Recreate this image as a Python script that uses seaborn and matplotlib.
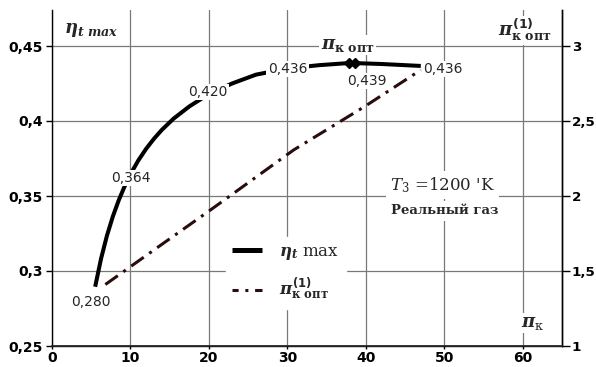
import matplotlib
matplotlib.use('Agg')
import matplotlib.pyplot as plt
import seaborn as sns
from matplotlib.lines import Line2D
from matplotlib.font_manager import FontProperties

# ---------------- data ----------------
pi_k = [5.5, 6.25, 7.0, 7.75, 8.5, 9.25, 10.0, 11.0, 12.0, 13.0, 14.0, 15.5, 17.5,
        20.0, 23.0, 26.0, 30.0, 34.0, 38.0, 42.0, 47.0]
eta_t_max = [0.2895, 0.3082, 0.3235, 0.3363, 0.3471, 0.3564, 0.3645, 0.3737, 0.3815,
             0.3882, 0.3941, 0.4016, 0.4097, 0.4180, 0.4251, 0.4309, 0.4350, 0.4372,
             0.4387, 0.4380, 0.4367]

pi_k_line = [6.8, 14.2, 20.2, 30.8, 39.8, 47.0]
pi_k_opt1 = [1.41, 1.685, 1.907, 2.307, 2.595, 2.84]

opt_x = [37.85, 38.6]
opt_y = [0.4387, 0.4387]

label_x = [5.0, 10.1, 19.9, 30.0, 40.15, 49.8]
label_y = [0.2793, 0.362, 0.4193, 0.4347, 0.4267, 0.4347]
label_text = ['0,280', '0,364', '0,420', '0,436', '0,439', '0,436']

x_ticks = [0, 10, 20, 30, 40, 50, 60]
x_ticklabels = ['0', '10', '20', '30', '40', '50', '60']
y_ticks = [0.25, 0.30, 0.35, 0.40, 0.45]
y_ticklabels = ['0,25', '0,3', '0,35', '0,4', '0,45']
y2_ticks = [1, 1.5, 2, 2.5, 3]
y2_ticklabels = ['1', '1,5', '2', '2,5', '3']

# ---------------- style ----------------
sns.set_theme(style='white')
plt.rcParams['font.family'] = ['DejaVu Sans']
plt.rcParams['mathtext.fontset'] = 'custom'
plt.rcParams['mathtext.it'] = 'DejaVu Serif:italic:bold'
plt.rcParams['mathtext.rm'] = 'DejaVu Serif:bold'
plt.rcParams['mathtext.bf'] = 'DejaVu Serif:bold'
plt.rcParams['mathtext.sf'] = 'DejaVu Sans:bold'

DD = '#2a0c0c'
DASHDOT = (0, (5, 2.2, 1, 2.2))

fig = plt.figure(figsize=(5.96, 3.67), dpi=100)
ax = fig.add_axes([52 / 596, 1 - 346 / 367, 510 / 596, 336 / 367])

sns.lineplot(x=pi_k, y=eta_t_max, ax=ax, color='black', lw=2.9, sort=False,
             solid_capstyle='butt', solid_joinstyle='round')
ax.plot(opt_x, opt_y, linestyle='none', marker='D', ms=5.5, color='black', zorder=5)

ax.set_xlim(0, 65)
ax.set_ylim(0.25, 0.474)
ax.set_xticks(x_ticks)
ax.set_xticklabels(x_ticklabels, fontweight='bold', fontsize=10, family='DejaVu Sans')
ax.set_yticks(y_ticks)
ax.set_yticklabels(y_ticklabels, fontweight='bold', fontsize=10, family='DejaVu Sans')
ax.tick_params(axis='y', direction='out', length=4.5, width=1, pad=2, colors='black', left=True)
ax.tick_params(axis='x', direction='out', length=2.5, width=1, pad=1, colors='black', bottom=True)
ax.grid(True, color='#787878', lw=0.9)
ax.set_xlabel('')
ax.set_ylabel('')
for s in ['left', 'bottom', 'right']:
    ax.spines[s].set_color('black')
    ax.spines[s].set_linewidth(1)
ax.spines['top'].set_visible(False)

ax2 = ax.twinx()
sns.lineplot(x=pi_k_line, y=pi_k_opt1, ax=ax2, color=DD, lw=2.2, sort=False,
             linestyle=DASHDOT)
ax2.set_ylim(1, 1 + (0.474 - 0.25) * 10)
ax2.set_yticks(y2_ticks)
ax2.set_yticklabels(y2_ticklabels, fontweight='bold', fontsize=9.7, family='DejaVu Sans')
ax2.tick_params(axis='y', direction='out', length=5.5, width=1, pad=1.5, colors='black', right=True)
ax2.grid(False)
ax2.set_ylabel('')
ax2.spines['top'].set_visible(False)
ax2.spines['left'].set_visible(False)
ax2.spines['right'].set_color('black')
ax2.spines['right'].set_linewidth(1)

box = dict(facecolor='white', edgecolor='none', pad=1.0)
for tx, ty, tt in zip(label_x, label_y, label_text):
    ax2.text(tx, ty, tt, transform=ax.transData, ha='center', va='center',
             fontsize=10, family='DejaVu Sans', bbox=box, zorder=6)

ax2.text(5.0, 0.4607, r'$\eta_{t\ max}$', transform=ax.transData, ha='center',
         va='center', fontsize=13, bbox=box, zorder=6)
ax2.text(60.3, 0.4605, r'$\pi^{\mathsf{(1)}}_{\mathrm{к\ опт}}$', transform=ax.transData,
         ha='center', va='center', fontsize=13, bbox=box, zorder=6)
ax2.text(37.7, 0.4507, r'$\pi_{\mathrm{к\ опт}}$', transform=ax.transData,
         ha='center', va='center', fontsize=13, bbox=box, zorder=6)
ax2.text(61.2, 0.2653, r'$\pi_{\mathregular{к}}$', transform=ax.transData,
         ha='center', va='center', fontsize=13, family='DejaVu Serif', bbox=box, zorder=6)

ax2.text(49.8, 0.3573, "$T_3$ =1200 'K", transform=ax.transData, ha='center',
         va='center', fontsize=12, family='DejaVu Serif', math_fontfamily='dejavuserif',
         bbox=dict(facecolor='white', edgecolor='none', pad=3), zorder=6)
ax2.text(50.1, 0.3400, 'Реальный газ', transform=ax.transData, ha='center',
         va='center', fontsize=9.5, family='DejaVu Serif', fontweight='bold',
         bbox=dict(facecolor='white', edgecolor='none', pad=2.5), zorder=7)

handles = [Line2D([], [], color='black', lw=3.6, solid_capstyle='butt'),
           Line2D([], [], color=DD, lw=2.2, linestyle=(3, (5, 2.2, 1, 2.2)))]
labels = [r'$\eta_{t}$ max', r'$\pi^{\mathsf{(1)}}_{\mathrm{к\ опт}}$']
leg = ax2.legend(handles, labels, loc='center', bbox_to_anchor=(0.458, 0.218),
                 frameon=True, fancybox=False, framealpha=1, facecolor='white',
                 edgecolor='white', handlelength=1.8, handletextpad=1.0,
                 labelspacing=0.9, borderpad=0.4,
                 prop=FontProperties(family='DejaVu Serif', size=12))
leg.set_zorder(8)

fig.savefig('out.png', dpi=100)
